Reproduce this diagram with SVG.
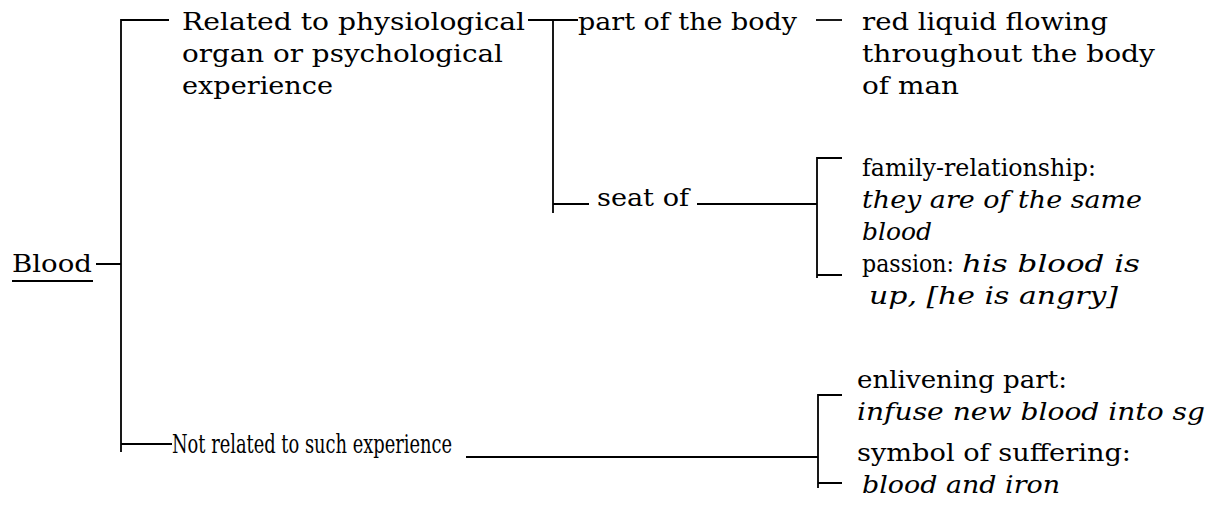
<svg xmlns="http://www.w3.org/2000/svg" width="1209" height="528" viewBox="0 0 1209 528">
<style>
text{font-family:"DejaVu Serif","Liberation Serif",serif;font-size:25px;fill:#000}
.i{font-style:italic}
.c{font-family:"DejaVu Serif Condensed","DejaVu Serif","Liberation Serif",serif;font-stretch:condensed;font-size:26px}
.ln{stroke:#000;stroke-width:1.8;fill:none}
</style>
<rect width="1209" height="528" fill="#fff"/>
<g id="connectors" class="ln">
<path d="M96 264H121M169 20H121V452M121 444H172"/>
<path d="M528 20H578M553 20V213M553 204H589"/>
<path d="M816 20H842"/>
<path d="M697 204H817M842 158H817V278M817 275H842"/>
<path d="M466 457H818M842 395H818V488M818 483H842"/>
</g>
<g id="blood">
<text x="12" y="272" textLength="80" lengthAdjust="spacingAndGlyphs">Blood</text>
<line class="ln" x1="12" y1="281" x2="93" y2="281"/>
</g>
<g id="related">
<text x="182" y="30" textLength="343" lengthAdjust="spacingAndGlyphs">Related to physiological</text>
<text x="182" y="62" textLength="321" lengthAdjust="spacingAndGlyphs">organ or psychological</text>
<text x="182" y="94" textLength="151" lengthAdjust="spacingAndGlyphs">experience</text>
</g>
<g id="part">
<text x="578" y="30" textLength="219" lengthAdjust="spacingAndGlyphs">part of the body</text>
</g>
<g id="red">
<text x="862" y="30" textLength="246" lengthAdjust="spacingAndGlyphs">red liquid flowing</text>
<text x="862" y="62" textLength="293" lengthAdjust="spacingAndGlyphs">throughout the body</text>
<text x="862" y="94" textLength="97" lengthAdjust="spacingAndGlyphs">of man</text>
</g>
<g id="seat">
<text x="597" y="206" textLength="92" lengthAdjust="spacingAndGlyphs">seat of</text>
</g>
<g id="family">
<text x="862" y="176" textLength="234" lengthAdjust="spacingAndGlyphs">family-relationship:</text>
<text x="862" y="208" class="i" textLength="280" lengthAdjust="spacingAndGlyphs">they are of the same</text>
<text x="862" y="240" class="i" textLength="70" lengthAdjust="spacingAndGlyphs">blood</text>
</g>
<g id="passion">
<text x="862" y="272"><tspan textLength="92" lengthAdjust="spacingAndGlyphs">passion:</tspan><tspan class="i" x="962" textLength="178" lengthAdjust="spacingAndGlyphs">his blood is</tspan></text>
<text x="869" y="304" class="i" textLength="249" lengthAdjust="spacingAndGlyphs">up, [he is angry]</text>
</g>
<g id="notrelated">
<text x="172" y="453" class="c" textLength="280" lengthAdjust="spacingAndGlyphs">Not related to such experience</text>
</g>
<g id="enlivening">
<text x="857" y="388" textLength="210" lengthAdjust="spacingAndGlyphs">enlivening part:</text>
<text x="857" y="420" class="i" textLength="348" lengthAdjust="spacingAndGlyphs">infuse new blood into sg</text>
</g>
<g id="symbol">
<text x="857" y="461" textLength="274" lengthAdjust="spacingAndGlyphs">symbol of suffering:</text>
<text x="862" y="493" class="i" textLength="198" lengthAdjust="spacingAndGlyphs">blood and iron</text>
</g>
</svg>
